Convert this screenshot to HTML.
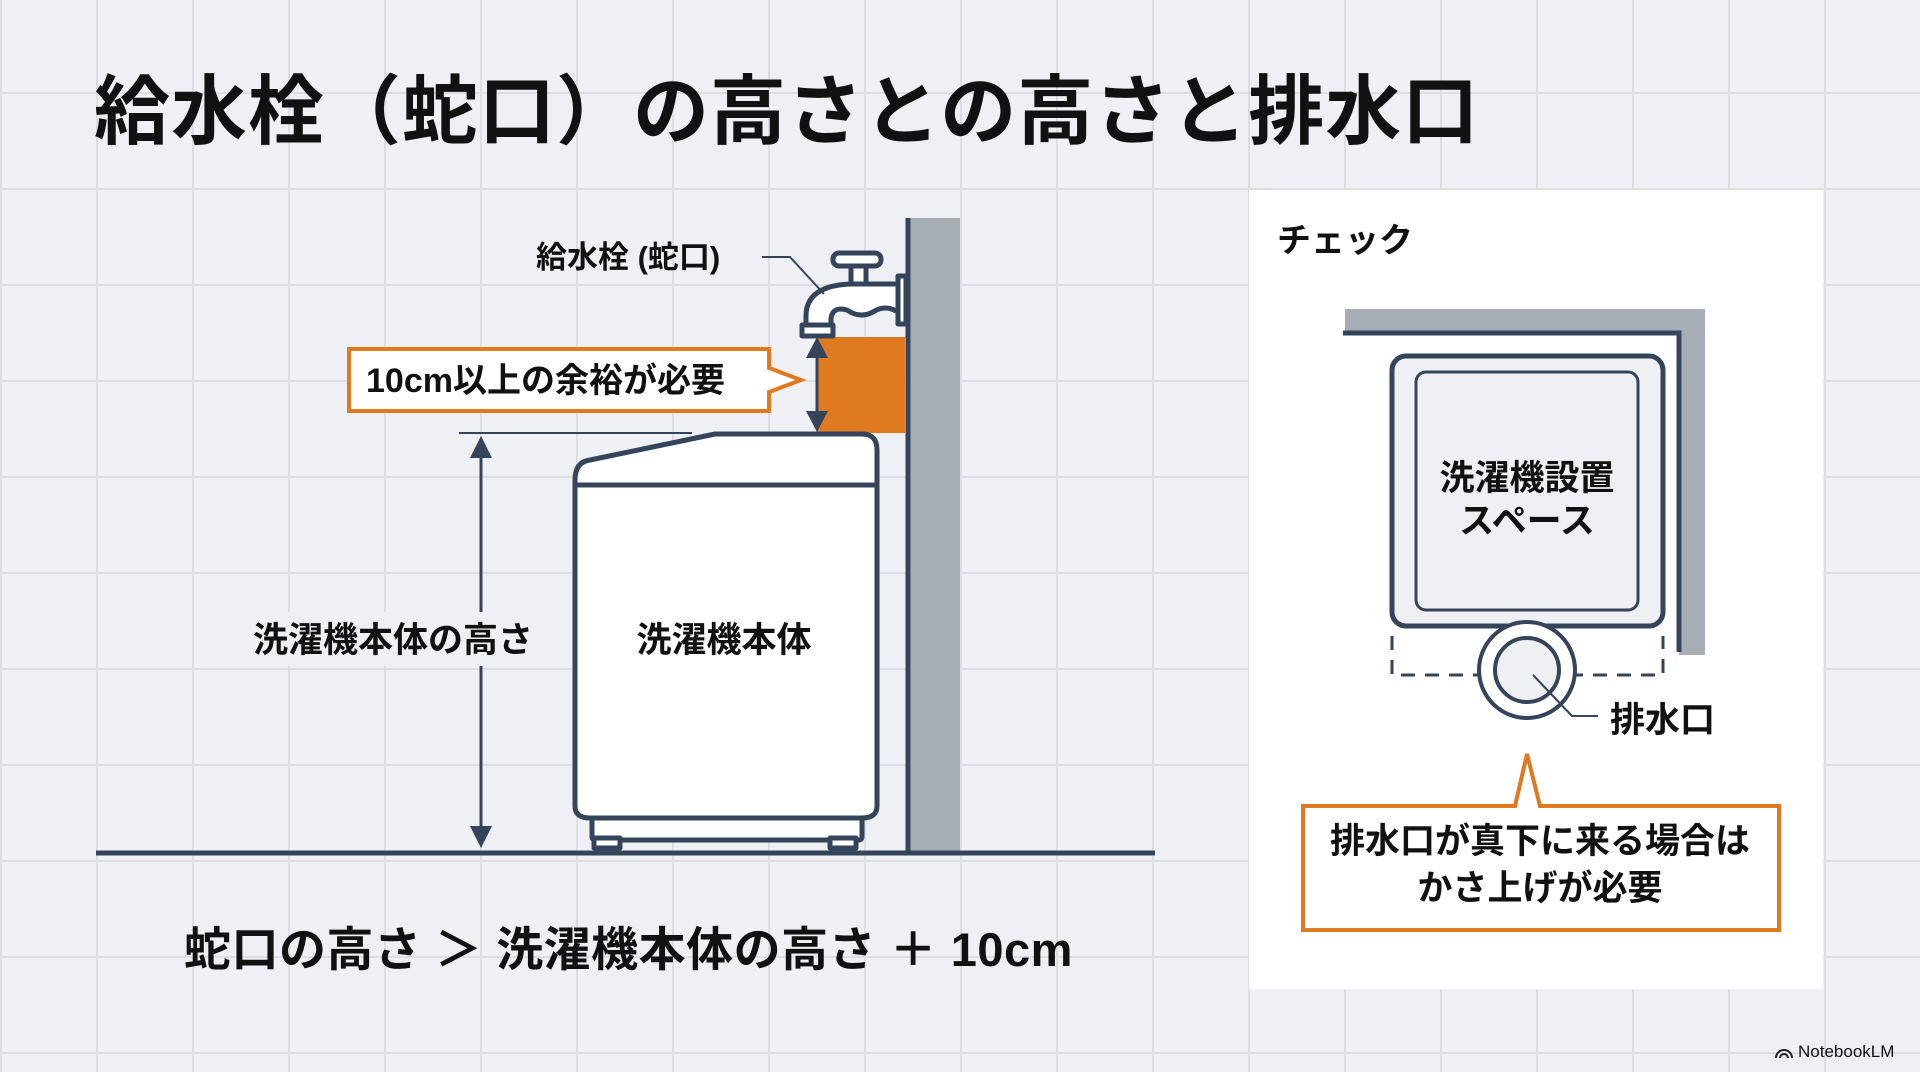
<!DOCTYPE html>
<html><head><meta charset="utf-8"><style>
html,body{margin:0;padding:0}
body{width:1920px;height:1072px;overflow:hidden;background:#eff0f3;
background-image:linear-gradient(#dcdee3 2px,transparent 2px),linear-gradient(90deg,#dcdee3 2px,transparent 2px);
background-size:96px 96px;background-position:0 -4px,0 0;font-family:"Liberation Sans","Noto Sans CJK JP",sans-serif}
svg{position:absolute;left:0;top:0}
text{font-family:"Liberation Sans","Noto Sans CJK JP",sans-serif;font-weight:bold;fill:#111}
</style></head><body>
<svg width="1920" height="1072" viewBox="0 0 1920 1072">
<text x="94" y="138" font-size="76" letter-spacing="1">給水栓（蛇口）の高さとの高さと排水口</text>

<!-- wall -->
<rect x="908" y="218" width="52" height="635" fill="#a7adb5"/>
<line x1="908" y1="218" x2="908" y2="853" stroke="#34445a" stroke-width="5"/>
<!-- floor -->
<line x1="96" y1="853" x2="1155" y2="853" stroke="#34445a" stroke-width="5"/>

<!-- orange gap -->
<rect x="817" y="337" width="88" height="96" fill="#e07a20"/>
<line x1="817" y1="345" x2="817" y2="425" stroke="#34445a" stroke-width="3"/>
<polygon points="817,337 806,358 828,358" fill="#34445a"/>
<polygon points="817,432 806,411 828,411" fill="#34445a"/>

<!-- faucet -->
<g fill="#fff" stroke="#34445a" stroke-width="5" stroke-linejoin="round">
<rect x="898" y="276" width="8" height="48"/>
<rect x="851" y="263" width="15" height="22"/>
<rect x="833" y="253" width="48" height="13" rx="6"/>
<path d="M898 284 L850 284 Q806 286 806 316 L806 327 L831 327 L831 318 Q833 306 847 310 Q860 319 873 312 Q885 304 898 312 Z"/>
<rect x="802" y="325" width="31" height="11"/>
</g>
<polyline points="762,257 790,257 824,294" fill="none" stroke="#34445a" stroke-width="2"/>
<text x="536" y="268" font-size="31">給水栓 (蛇口)</text>

<!-- callout -->
<path d="M349 349 L769 349 L769 368 L801 380 L769 392 L769 411 L349 411 Z" fill="#fff" stroke="#e07a20" stroke-width="4"/>
<text x="366" y="392" font-size="34">10cm以上の余裕が必要</text>

<!-- height dimension -->
<line x1="459" y1="433" x2="692" y2="433" stroke="#34445a" stroke-width="2"/>
<line x1="481" y1="450" x2="481" y2="830" stroke="#34445a" stroke-width="3"/>
<polygon points="481,436 470,458 492,458" fill="#34445a"/>
<polygon points="481,848 470,826 492,826" fill="#34445a"/>
<rect x="248" y="612" width="296" height="54" fill="#eff0f3"/>
<text x="253" y="652" font-size="35">洗濯機本体の高さ</text>

<!-- washer -->
<g stroke="#34445a" stroke-width="5" fill="#fff" stroke-linejoin="round">
<rect x="592" y="812" width="270" height="28" rx="3"/>
<rect x="594" y="838" width="26" height="10"/>
<rect x="830" y="838" width="26" height="10"/>
<path d="M575 480 Q575 462 590 460 L715 434 L862 434 Q877 434 877 450 L877 806 Q877 818 862 818 L590 818 Q575 818 575 806 Z"/>
<line x1="575" y1="485" x2="877" y2="485"/>
</g>
<text x="724" y="652" font-size="35" text-anchor="middle">洗濯機本体</text>

<text x="184" y="966" font-size="47" letter-spacing="0.5">蛇口の高さ ＞ 洗濯機本体の高さ ＋ 10cm</text>

<!-- right panel -->
<rect x="1249" y="190" width="574" height="799" fill="#fff"/>
<text x="1277" y="252" font-size="34">チェック</text>
<rect x="1345" y="309" width="360" height="24" fill="#a7adb5"/>
<rect x="1679" y="309" width="26" height="346" fill="#a7adb5"/>
<polyline points="1343,333 1679,333 1679,652" fill="none" stroke="#34445a" stroke-width="5"/>
<rect x="1392" y="356" width="271" height="270" rx="14" fill="#eff0f3" stroke="#34445a" stroke-width="5"/>
<rect x="1416" y="372" width="222" height="238" rx="10" fill="#eff0f3" stroke="#34445a" stroke-width="3"/>
<text x="1527" y="490" font-size="35" text-anchor="middle">洗濯機設置</text>
<text x="1527" y="533" font-size="35" text-anchor="middle">スペース</text>
<polyline points="1392,636 1392,675 1663,675 1663,636" fill="none" stroke="#34445a" stroke-width="3" stroke-dasharray="14,10"/>
<circle cx="1527" cy="670" r="48" fill="#fff" stroke="#34445a" stroke-width="4"/>
<circle cx="1527" cy="670" r="32" fill="#eff0f3" stroke="#34445a" stroke-width="4"/>
<polyline points="1533,675 1572,716 1598,716" fill="none" stroke="#34445a" stroke-width="2"/>
<text x="1610" y="732" font-size="35">排水口</text>

<path d="M1303 806 L1515 806 L1527 754 L1540 806 L1779 806 L1779 930 L1303 930 Z" fill="#fff" stroke="#e07a20" stroke-width="4"/>
<text x="1540" y="853" font-size="35" text-anchor="middle">排水口が真下に来る場合は</text>
<text x="1540" y="900" font-size="35" text-anchor="middle">かさ上げが必要</text>

<text x="1798" y="1057" font-size="17" style="font-weight:normal">NotebookLM</text>
<path d="M1776 1058 a8 8 0 0 1 16 0 M1780 1058 a4 4 0 0 1 8 0" fill="none" stroke="#222" stroke-width="2"/>
</svg>
</body></html>
